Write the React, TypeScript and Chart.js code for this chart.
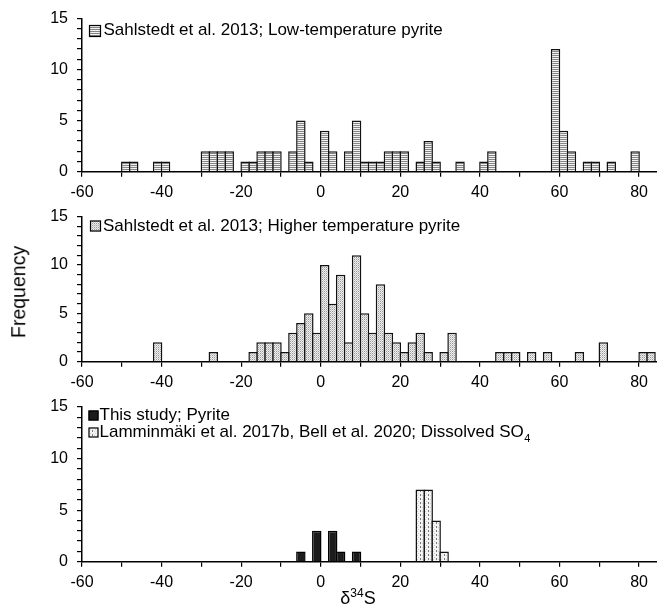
import React, { useEffect, useRef } from "react";
import { Chart, registerables } from "chart.js";

Chart.register(...registerables);

const FONT = "'Liberation Sans', Arial, Helvetica, sans-serif";

// Histogram bins: lower edge of each 2‰ δ34S bin, and its frequency
const BIN_WIDTH = 2;

const lowTempBins = [-50, -48, -42, -40, -30, -28, -26, -24, -20, -18, -16, -14, -12, -8, -6, -4, 0, 2, 6, 8, 10, 12, 14, 16, 18, 20, 24, 26, 28, 34, 40, 42, 58, 60, 62, 66, 68, 72, 78];
const lowTempCounts = [1, 1, 1, 1, 2, 2, 2, 2, 1, 1, 2, 2, 2, 2, 5, 1, 4, 2, 2, 5, 1, 1, 1, 2, 2, 2, 1, 3, 1, 1, 1, 2, 12, 4, 2, 1, 1, 1, 2];

const highTempBins = [-42, -28, -18, -16, -14, -12, -10, -8, -6, -4, -2, 0, 2, 4, 6, 8, 10, 12, 14, 16, 18, 20, 22, 24, 26, 30, 32, 44, 46, 48, 52, 56, 64, 70, 80, 82];
const highTempCounts = [2, 1, 1, 2, 2, 2, 1, 3, 4, 5, 3, 10, 6, 9, 2, 11, 5, 3, 8, 3, 2, 1, 2, 3, 1, 1, 3, 1, 1, 1, 1, 1, 1, 2, 1, 1];

const pyriteBins = [-6, -2, 2, 4, 8];
const pyriteCounts = [1, 3, 3, 1, 1];

const so4Bins = [24, 26, 28, 30];
const so4Counts = [7, 7, 4, 1];

const xTickValues = [-60, -50, -40, -30, -20, -10, 0, 10, 20, 30, 40, 50, 60, 70, 80];
const xLabelValues = [-60, -40, -20, 0, 20, 40, 60, 80];
const yTickValues = [0, 1, 2, 3, 4, 5, 6, 7, 8, 9, 10, 11, 12, 13, 14, 15];
const yLabelValues = [0, 5, 10, 15];

const legendLow = "Sahlstedt et al. 2013; Low-temperature pyrite";
const legendHigh = "Sahlstedt et al. 2013; Higher temperature pyrite";
const legendPyrite = "This study; Pyrite";
const legendSO4 = "Lamminmäki et al. 2017b, Bell et al. 2020; Dissolved SO";
const legendSO4Sub = "4";

const xTitleMain = "δ";
const xTitleSup = "34";
const xTitleEnd = "S";
const yTitle = "Frequency";

function toPoints(bins: number[], counts: number[]) {
  return bins.map((b, i) => ({ x: b + BIN_WIDTH / 2, y: counts[i] }));
}

function makePattern(w: number, h: number, draw: (g: CanvasRenderingContext2D) => void) {
  const c = document.createElement("canvas");
  c.width = w;
  c.height = h;
  const g = c.getContext("2d")!;
  draw(g);
  return g.createPattern(c, "repeat")!;
}

const boxLegend = {
  id: "boxLegend",
  afterDraw(chart: any, _args: any, opts: any) {
    const ctx = chart.ctx as CanvasRenderingContext2D;
    for (const e of opts.items || []) {
      ctx.save();
      ctx.fillStyle = e.fill;
      ctx.fillRect(e.bx, e.by, e.bs, e.bs);
      ctx.strokeStyle = "#000";
      ctx.lineWidth = 1.2;
      ctx.strokeRect(e.bx + 0.5, e.by + 0.5, e.bs - 1, e.bs - 1);
      ctx.font = `17px ${FONT}`;
      ctx.fillStyle = "#000";
      ctx.textBaseline = "middle";
      ctx.textAlign = "left";
      ctx.fillText(e.text, e.tx, e.ty);
      if (e.sub) {
        const w = ctx.measureText(e.text).width;
        ctx.font = `11px ${FONT}`;
        ctx.fillText(e.sub, e.tx + w + 0.5, e.ty + 6);
      }
      ctx.restore();
    }
  },
};

type PanelSpec = {
  canvasTop: number;
  height: number;
  areaTop: number; // page y of value 15
  areaBottom: number; // page y of value 0
};

const PANELS: PanelSpec[] = [
  { canvasTop: -7, height: 210, areaTop: 18.3, areaBottom: 171.7 },
  { canvasTop: 191, height: 210, areaTop: 216.7, areaBottom: 361.7 },
  { canvasTop: 382, height: 215, areaTop: 407, areaBottom: 561.7 },
];

function makeConfig(spec: PanelSpec, datasets: any[], legendItems: any[]) {
  const padTop = spec.areaTop - spec.canvasTop;
  const axisH = spec.height - (spec.areaBottom - spec.canvasTop);
  const tickFont = { family: FONT, size: 16 };
  return {
    type: "bar" as const,
    data: { datasets },
    plugins: [boxLegend],
    options: {
      animation: false,
      responsive: false,
      maintainAspectRatio: false,
      layout: { padding: { top: padTop, left: 0, right: 0, bottom: 0 } },
      plugins: {
        legend: { display: false },
        tooltip: { enabled: false },
        boxLegend: { items: legendItems },
      },
      datasets: {
        bar: {
          barPercentage: 1.19,
          categoryPercentage: 1,
          grouped: false,
          borderWidth: 1.5,
          borderColor: "#111",
          borderSkipped: "start",
        },
      },
      scales: {
        x: {
          type: "linear",
          min: -60,
          max: 84.5,
          offset: false,
          afterBuildTicks: (s: any) => {
            s.ticks = xTickValues.map((v) => ({ value: v }));
          },
          afterFit: (s: any) => {
            s.height = axisH;
          },
          ticks: {
            autoSkip: false,
            maxRotation: 0,
            padding: 6,
            color: "#000",
            font: tickFont,
            callback: (v: any) => (xLabelValues.includes(Number(v)) ? String(v) : ""),
          },
          grid: {
            display: true,
            offset: false,
            drawOnChartArea: false,
            drawTicks: true,
            tickLength: 5,
            color: "#000",
            lineWidth: 1.2,
          },
          border: { display: true, color: "#000", width: 1.5 },
        },
        y: {
          type: "linear",
          min: 0,
          max: 15,
          afterBuildTicks: (s: any) => {
            s.ticks = yTickValues.map((v) => ({ value: v }));
          },
          afterFit: (s: any) => {
            s.width = 82;
          },
          ticks: {
            autoSkip: false,
            padding: 9,
            color: "#000",
            font: tickFont,
            callback: (v: any) => (yLabelValues.includes(Number(v)) ? String(v) : ""),
          },
          grid: {
            display: true,
            drawOnChartArea: false,
            drawTicks: true,
            tickLength: 5,
            color: "#000",
            lineWidth: 1.2,
          },
          border: { display: true, color: "#000", width: 1.5 },
        },
      },
    },
  };
}

export default function App() {
  const c1 = useRef<HTMLCanvasElement>(null);
  const c2 = useRef<HTMLCanvasElement>(null);
  const c3 = useRef<HTMLCanvasElement>(null);

  useEffect(() => {
    const stripes = makePattern(2, 2, (g) => {
      g.fillStyle = "#f2f2f2";
      g.fillRect(0, 0, 2, 2);
      g.fillStyle = "#858585";
      g.fillRect(0, 0, 2, 1);
    });
    const stipple = makePattern(2, 2, (g) => {
      g.fillStyle = "#eeeeee";
      g.fillRect(0, 0, 2, 2);
      g.fillStyle = "#9a9a9a";
      g.fillRect(0, 0, 1, 1);
      g.fillStyle = "#c8c8c8";
      g.fillRect(1, 1, 1, 1);
    });
    const dashed = makePattern(8, 4, (g) => {
      g.fillStyle = "#f4f4f4";
      g.fillRect(0, 0, 8, 4);
      g.fillStyle = "#cfcfcf";
      g.fillRect(1, 1, 1, 1);
      g.fillRect(2, 3, 1, 1);
      g.fillRect(6, 1, 1, 1);
      g.fillRect(7, 3, 1, 1);
      g.fillStyle = "#7a7a7a";
      g.fillRect(4, 0, 1, 2);
    });
    const black = "#1c1c1c";

    const charts: Chart[] = [];
    charts.push(
      new Chart(
        c1.current!,
        makeConfig(
          PANELS[0],
          [{ data: toPoints(lowTempBins, lowTempCounts), backgroundColor: stripes }],
          [{ fill: stripes, bx: 89, by: 25 - PANELS[0].canvasTop, bs: 12, text: legendLow, tx: 103.5, ty: 30.5 - PANELS[0].canvasTop }]
        ) as any
      )
    );
    charts.push(
      new Chart(
        c2.current!,
        makeConfig(
          PANELS[1],
          [{ data: toPoints(highTempBins, highTempCounts), backgroundColor: stipple }],
          [{ fill: stipple, bx: 90, by: 220.5 - PANELS[1].canvasTop, bs: 11, text: legendHigh, tx: 103, ty: 226 - PANELS[1].canvasTop }]
        ) as any
      )
    );
    charts.push(
      new Chart(
        c3.current!,
        makeConfig(
          PANELS[2],
          [
            { data: toPoints(pyriteBins, pyriteCounts), backgroundColor: black, borderColor: "#000" },
            { data: toPoints(so4Bins, so4Counts), backgroundColor: dashed },
          ],
          [
            { fill: black, bx: 88.5, by: 410.5 - PANELS[2].canvasTop, bs: 10, text: legendPyrite, tx: 99.5, ty: 415.5 - PANELS[2].canvasTop },
            { fill: dashed, bx: 88.5, by: 427.5 - PANELS[2].canvasTop, bs: 10, text: legendSO4, sub: legendSO4Sub, tx: 99.5, ty: 432.5 - PANELS[2].canvasTop },
          ]
        ) as any
      )
    );
    return () => charts.forEach((c) => c.destroy());
  }, []);

  const canvasStyle = (p: PanelSpec): React.CSSProperties => ({
    position: "absolute",
    left: 0,
    top: p.canvasTop,
    width: 657,
    height: p.height,
  });

  return (
    <div
      style={{
        position: "absolute",
        left: 0,
        top: 0,
        width: 657,
        height: 609,
        overflow: "hidden",
        background: "#fff",
        fontFamily: FONT,
        color: "#000",
      }}
    >
      <canvas ref={c1} width={657} height={PANELS[0].height} style={canvasStyle(PANELS[0])} />
      <canvas ref={c2} width={657} height={PANELS[1].height} style={canvasStyle(PANELS[1])} />
      <canvas ref={c3} width={657} height={PANELS[2].height} style={canvasStyle(PANELS[2])} />
      <div
        style={{
          position: "absolute",
          left: 19,
          top: 292,
          transform: "translate(-50%, -50%) rotate(-90deg)",
          fontSize: 19.5,
          lineHeight: "19.5px",
          whiteSpace: "nowrap",
        }}
      >
        {yTitle}
      </div>
      <div
        style={{
          position: "absolute",
          left: 258,
          width: 200,
          top: 589,
          textAlign: "center",
          fontSize: 18,
          lineHeight: "18px",
          whiteSpace: "nowrap",
        }}
      >
        {xTitleMain}
        <sup style={{ fontSize: 12, lineHeight: 0, verticalAlign: "7px" }}>{xTitleSup}</sup>
        {xTitleEnd}
      </div>
    </div>
  );
}
